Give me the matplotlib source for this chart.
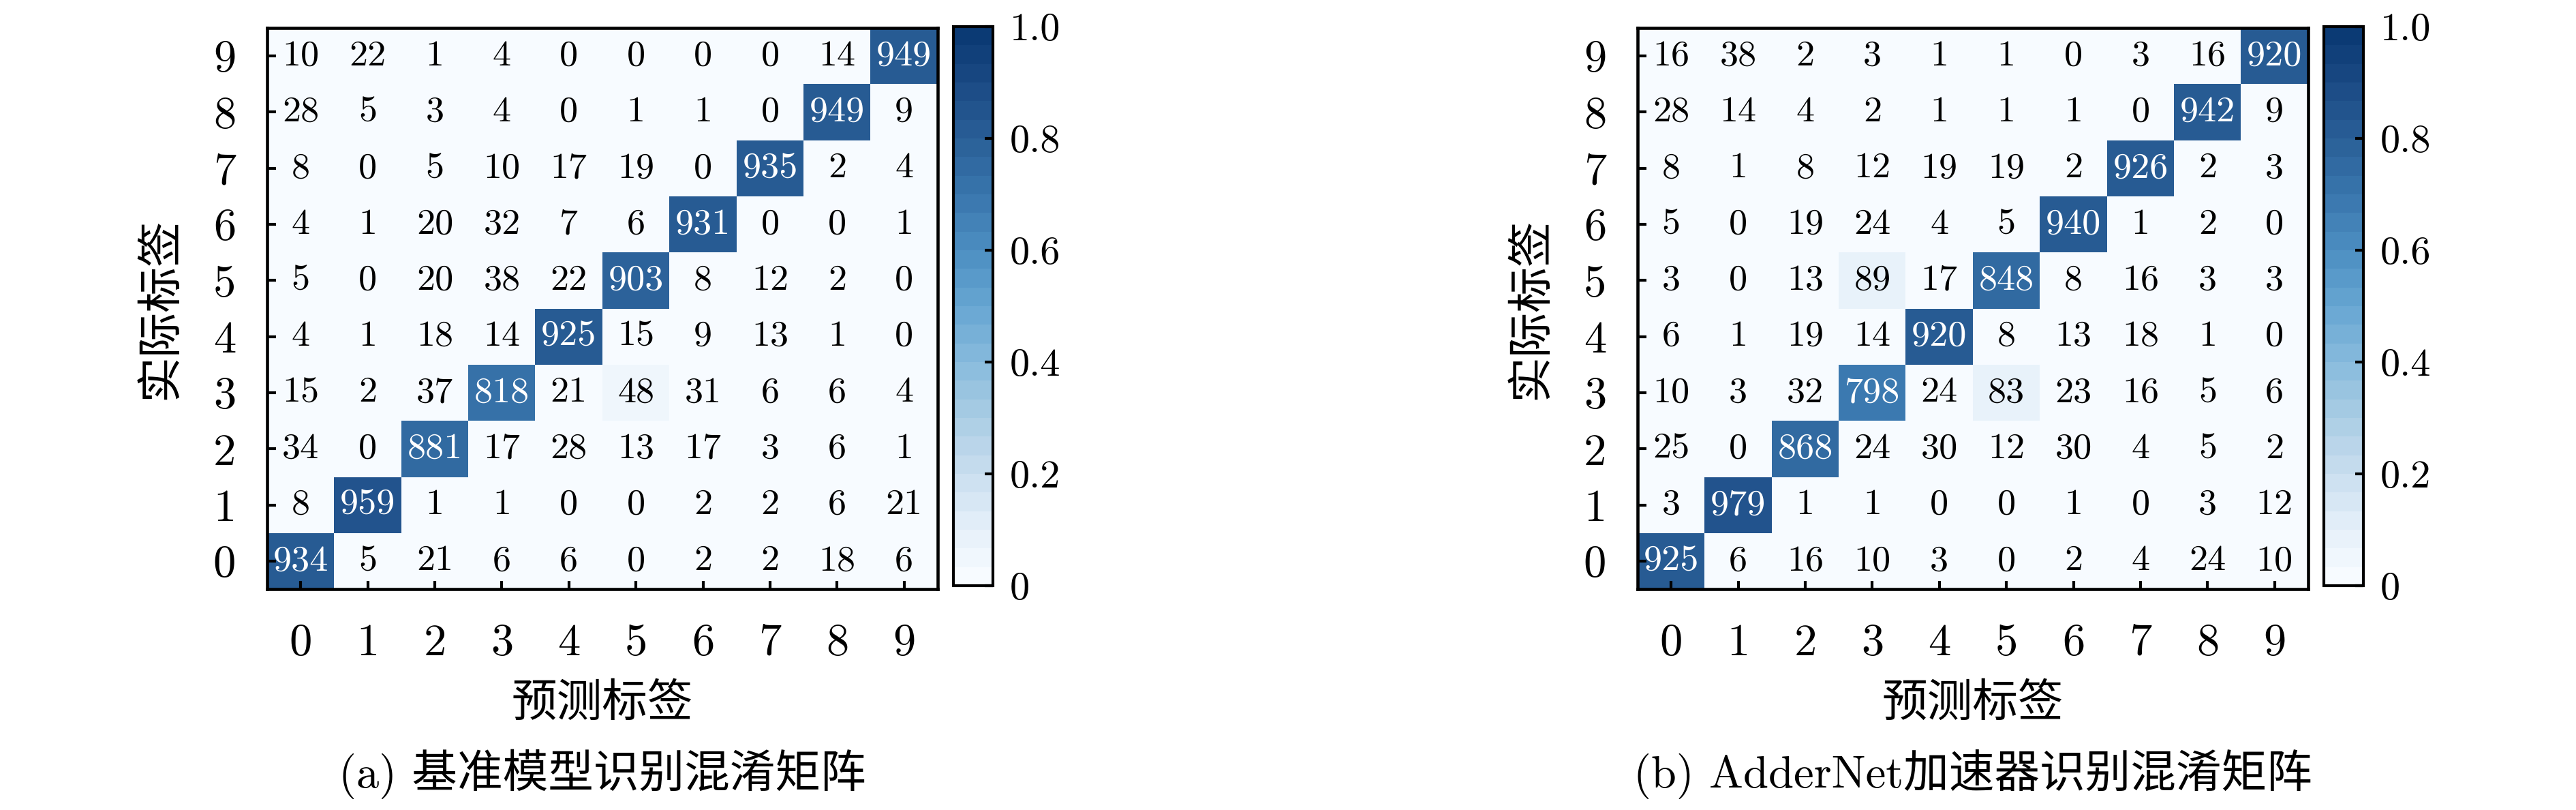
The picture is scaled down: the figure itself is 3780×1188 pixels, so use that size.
import numpy as np
import matplotlib
matplotlib.use('Agg')
import matplotlib.pyplot as plt
from matplotlib.colors import Normalize, LinearSegmentedColormap
from matplotlib.cm import ScalarMappable

plt.rcParams['font.family'] = ['cmr10', 'Noto Sans CJK SC']
plt.rcParams['axes.unicode_minus'] = False

labels = [str(i) for i in range(10)]

# rows = actual label 0..9, cols = predicted label 0..9
cm_base = np.array([
    [934, 5, 21, 6, 6, 0, 2, 2, 18, 6],
    [8, 959, 1, 1, 0, 0, 2, 2, 6, 21],
    [34, 0, 881, 17, 28, 13, 17, 3, 6, 1],
    [15, 2, 37, 818, 21, 48, 31, 6, 6, 4],
    [4, 1, 18, 14, 925, 15, 9, 13, 1, 0],
    [5, 0, 20, 38, 22, 903, 8, 12, 2, 0],
    [4, 1, 20, 32, 7, 6, 931, 0, 0, 1],
    [8, 0, 5, 10, 17, 19, 0, 935, 2, 4],
    [28, 5, 3, 4, 0, 1, 1, 0, 949, 9],
    [10, 22, 1, 4, 0, 0, 0, 0, 14, 949],
])

cm_adder = np.array([
    [925, 6, 16, 10, 3, 0, 2, 4, 24, 10],
    [3, 979, 1, 1, 0, 0, 1, 0, 3, 12],
    [25, 0, 868, 24, 30, 12, 30, 4, 5, 2],
    [10, 3, 32, 798, 24, 83, 23, 16, 5, 6],
    [6, 1, 19, 14, 920, 8, 13, 18, 1, 0],
    [3, 0, 13, 89, 17, 848, 8, 16, 3, 3],
    [5, 0, 19, 24, 4, 5, 940, 1, 2, 0],
    [8, 1, 8, 12, 19, 19, 2, 926, 2, 3],
    [28, 14, 4, 2, 1, 1, 1, 0, 942, 9],
    [16, 38, 2, 3, 1, 1, 0, 3, 16, 920],
])

captions = ['(a) 基准模型识别混淆矩阵', '(b) AdderNet加速器识别混淆矩阵']
cbar_ticks = [0, 0.2, 0.4, 0.6, 0.8, 1.0]
cbar_labels = ['0', '0.2', '0.4', '0.6', '0.8', '1.0']

# muted Blues, 30 steps like the original colour bar
blues = ['#f7fbff', '#e2eef8', '#c6dcee', '#a8cce4', '#86badc', '#66a6d2',
         '#4d8fc2', '#3a77ae', '#2b6199', '#1d4c86', '#0b3a74']
cmap = LinearSegmentedColormap.from_list('mblues', blues, N=30)

fig = plt.figure(figsize=(12.6, 3.96), dpi=300)

W, H = 3780, 1188
ax_left = [392, 2403]
ax_w, ax_top, ax_bot = 984, 41, 864

for k, (cm, cap) in enumerate(zip([cm_base, cm_adder], captions)):
    x0 = ax_left[k]
    ax = fig.add_axes([x0 / W, 1 - ax_bot / H, ax_w / W, (ax_bot - ax_top) / H])
    ax.imshow(cm, cmap=cmap, norm=Normalize(0, 1150), origin='lower',
              aspect='auto', interpolation='nearest')
    for i in range(10):
        for j in range(10):
            v = cm[i, j]
            ax.text(j, i, str(v), ha='center', va='center', fontsize=13,
                    color='white' if v > 500 else 'black')
    ax.set_xticks(range(10))
    ax.set_yticks(range(10))
    ax.set_xticklabels(labels, fontsize=16)
    ax.set_yticklabels(labels, fontsize=16)
    ax.tick_params(direction='in', length=3, width=1.0, top=False, right=False)
    ax.tick_params(axis='x', pad=12)
    ax.tick_params(axis='y', pad=11)
    for s in ax.spines.values():
        s.set_linewidth(1.1)
    ax.text(0.5, -0.205, '预测标签', transform=ax.transAxes, ha='center',
            va='center', fontsize=16)
    ax.text(-0.158, 0.5, '实际标签', transform=ax.transAxes, ha='center',
            va='center', rotation=90, fontsize=16)
    ax.text(0.5, -0.33, cap, transform=ax.transAxes, ha='center',
            va='center', fontsize=16)

    cx = x0 + ax_w + 23
    cax = fig.add_axes([cx / W, 1 - 859 / H, 58 / W, 820 / H])
    sm = ScalarMappable(norm=Normalize(0, 1), cmap=cmap)
    cb = fig.colorbar(sm, cax=cax)
    cb.set_ticks(cbar_ticks)
    cb.set_ticklabels(cbar_labels)
    cb.outline.set_linewidth(1.0)
    cax.tick_params(direction='in', length=3, width=1.0, labelsize=14, pad=6)

fig.savefig('out.png', dpi=300)
